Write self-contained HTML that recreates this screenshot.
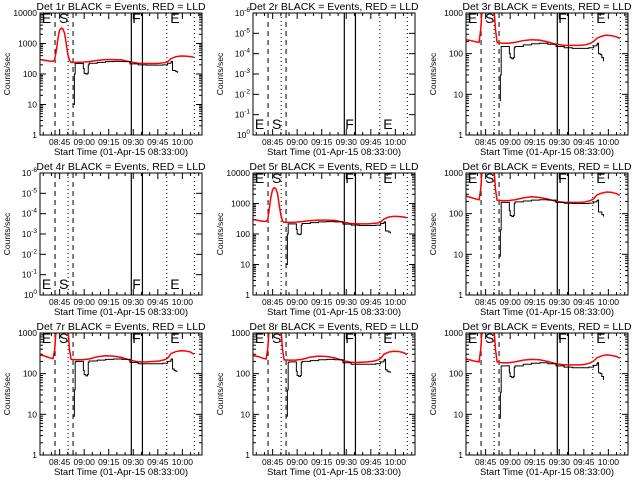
<!DOCTYPE html>
<html><head><meta charset="utf-8"><style>
html,body{margin:0;padding:0;background:#fff}
svg{display:block}
text{font-family:"Liberation Sans",sans-serif;fill:#000}
</style></head><body>
<svg id="chart" width="640" height="480" viewBox="0 0 640 480" xmlns="http://www.w3.org/2000/svg"></svg>
<script>
const T_RED=[0,3,6,8,9,10,11,12,13,14,15,16,17,18,19,22,26,30,35,40,45,50,55,60,65,70,73,76,78,80,83,86,89,92,94];
const T_BLACK=[20.5,21,21.5,22,26,26.5,27,28,29,29.5,30,35,40,45,50,55,60,65,70,75,78,80,80.4,81,82,83,84];
const RED_1=[300,280,265,260,300,600,1500,2800,3200,3000,2200,1000,450,280,240,240,245,255,280,295,295,290,250,225,220,220,225,235,250,320,370,390,385,370,355];
const BLK_1=[10,100,220,220,220,150,105,100,105,200,225,240,255,260,255,215,200,195,195,200,225,250,260,130,130,120,110];
const RED_3=[220,210,195,190,400,1500,3000,4000,4000,4000,3000,2000,1500,400,190,180,180,190,210,220,215,195,170,160,160,160,165,180,200,240,270,285,275,260,235];
const BLK_3=[7,30,150,150,150,100,80,75,80,140,150,165,175,180,170,150,140,135,135,140,155,170,180,100,95,80,65];
const RED_5=[300,280,260,260,300,700,1700,2900,3300,3000,2100,900,420,270,240,240,245,255,275,285,285,280,245,220,215,215,220,230,245,310,360,380,375,360,340];
const BLK_5=[10,100,215,215,215,140,100,95,100,195,220,235,250,255,250,210,195,190,190,195,220,240,250,125,125,115,105];
const RED_6=[270,250,230,220,400,1500,3000,4000,4000,4000,3000,2000,1500,400,215,210,210,220,245,260,250,230,200,190,190,190,195,210,230,290,320,340,335,310,280];
const BLK_6=[9,40,190,190,190,120,90,85,90,180,195,205,215,220,215,190,180,178,178,182,195,210,215,110,110,95,85];
const RED_7=[290,270,245,235,400,1500,3000,4000,4000,4000,3000,2000,1500,400,225,220,220,230,260,275,270,250,215,195,195,200,205,220,240,310,350,365,360,340,300];
const BLK_7=[9,40,195,200,200,120,95,88,95,190,205,215,225,230,225,190,175,175,175,180,200,220,230,130,120,115,115];
const RED_8=[280,265,240,230,400,1500,3000,4000,4000,4000,3000,2000,1500,400,220,215,215,225,255,270,265,245,210,190,190,195,200,215,235,300,340,355,350,330,295];
const BLK_8=[9,40,190,195,195,115,90,85,90,185,200,210,220,225,220,185,170,170,170,175,195,215,225,125,115,110,105];
const RED_9=[230,215,200,195,400,1500,3000,4000,4000,4000,3000,2000,1500,400,195,185,185,195,215,225,220,200,175,165,165,165,170,185,205,245,275,290,280,265,240];
const BLK_9=[8,35,155,155,155,105,85,80,85,145,155,170,180,185,175,155,145,140,140,145,160,175,185,105,100,85,70];
const X_TICK_MIN=[12,27,42,57,72,87];
const X_TICK_LABELS=["08:45","09:00","09:15","09:30","09:45","10:00"];
const MARK_DASHED=[9.2,20.2];
const MARK_DOTTED=[17.2,77.5,94.3];
const MARK_SOLID=[55.8,62.6];
const MARK_LETTERS=["E","S","F","E"];
const MARK_LETTER_MIN=[0.5,11,55.8,79];

const panels=[
 {det:1,ymax:4,red:RED_1,blk:BLK_1},
 {det:2,empty:true},
 {det:3,ymax:3,red:RED_3,blk:BLK_3},
 {det:4,empty:true},
 {det:5,ymax:4,red:RED_5,blk:BLK_5},
 {det:6,ymax:3,red:RED_6,blk:BLK_6},
 {det:7,ymax:3,red:RED_7,blk:BLK_7},
 {det:8,ymax:3,red:RED_8,blk:BLK_8},
 {det:9,ymax:3,red:RED_9,blk:BLK_9}
];
const NS="http://www.w3.org/2000/svg";
const svg=document.getElementById('chart');
function mk(tag,attrs,parent){const e=document.createElementNS(NS,tag);for(const k in attrs)e.setAttribute(k,attrs[k]);(parent||svg).appendChild(e);return e;}
const W=162,H=122,TMAX=99;
panels.forEach((p,i)=>{
 const col=i%3,row=Math.floor(i/3);
 const L=col*213+40,T=row*160+13;
 const g=mk('g',{});
 
 
 const xs=t=>L+t*W/TMAX;
 const dec=p.empty?6:p.ymax;
 const ys=v=>T+H-Math.log10(v)/dec*H;
 const cid='clip'+i;
 const cp=mk('clipPath',{id:cid},g);mk('rect',{x:L,y:T,width:W,height:H},cp);
 const tt=mk('text',{x:L+W/2,y:T-3,'text-anchor':'middle','font-size':'10.5'},g);
 tt.textContent='Det '+p.det+'r BLACK = Events, RED = LLD';
 
 
 for(let d=0;d<=dec;d++){
  const yy=T+H-d/dec*H;
  mk('line',{x1:L,x2:L+6,y1:yy,y2:yy,stroke:'#000'},g);
  mk('line',{x1:L+W-6,x2:L+W,y1:yy,y2:yy,stroke:'#000'},g);
  const lb=mk('text',{x:L-3,y:yy+3,'text-anchor':'end','font-size':'8.5'},g);
  if(p.empty){lb.textContent='10';const s=mk('tspan',{dy:'-4','font-size':'6.5'},lb);s.textContent=d==0?'0':'-'+d;}
  else lb.textContent=String(Math.pow(10,d));
  
  
  if(!p.empty&&d<dec){for(let m=2;m<10;m++){const ym=T+H-(d+Math.log10(m))/dec*H;
   mk('line',{x1:L,x2:L+3,y1:ym,y2:ym,stroke:'#000'},g);mk('line',{x1:L+W-3,x2:L+W,y1:ym,y2:ym,stroke:'#000'},g);}}
 }
 const yt=mk('text',{x:0,y:0,transform:`translate(${L-30},${T+H/2}) rotate(-90)`,'text-anchor':'middle','font-size':'8.5'},g);
 yt.textContent='Counts/sec';
 
 
 X_TICK_MIN.forEach((m,k)=>{const xx=xs(m);
  mk('line',{x1:xx,x2:xx,y1:T+H,y2:T+H-6,stroke:'#000'},g);mk('line',{x1:xx,x2:xx,y1:T,y2:T+6,stroke:'#000'},g);
  const lb=mk('text',{x:xx,y:T+H+10,'text-anchor':'middle','font-size':'8.5'},g);lb.textContent=X_TICK_LABELS[k];
  
  });
 for(let m=2;m<TMAX;m+=5){if(X_TICK_MIN.includes(m))continue;const xx=xs(m);
  mk('line',{x1:xx,x2:xx,y1:T+H,y2:T+H-3,stroke:'#000'},g);mk('line',{x1:xx,x2:xx,y1:T,y2:T+3,stroke:'#000'},g);}
 const xt=mk('text',{x:L+W/2,y:T+H+20,'text-anchor':'middle','font-size':'9.5'},g);
 xt.textContent='Start Time (01-Apr-15 08:33:00)';
 
 
 MARK_DASHED.forEach(m=>mk('line',{x1:xs(m),x2:xs(m),y1:T,y2:T+H,stroke:'#000','stroke-dasharray':'5,4'},g));
 MARK_DOTTED.forEach(m=>mk('line',{x1:xs(m),x2:xs(m),y1:T,y2:T+H,stroke:'#000','stroke-dasharray':'1,3'},g));
 MARK_SOLID.forEach(m=>mk('line',{x1:xs(m),x2:xs(m),y1:T,y2:T+H,stroke:'#000','stroke-width':'1.2'},g));
 MARK_LETTERS.forEach((s,k)=>{const lt=mk('text',{x:xs(MARK_LETTER_MIN[k])+1,y:p.empty?T+H-6:T+10,'font-size':'14'},g);lt.textContent=s;
  
  });
 if(!p.empty){
  const line=(ts,vs)=>ts.map((t,k)=>(k?'L':'M')+xs(t)+','+ys(vs[k])).join('');
  const step=(ts,vs)=>{let d='';ts.forEach((t,k)=>{const x=xs(t),y=ys(vs[k]);if(k==0)d+=`M${x},${y}`;else{d+=`H${x}V${y}`;}});return d;};
  const rp=mk('path',{d:line(T_RED,p.red),fill:'none',stroke:'#f00','stroke-width':'1.5','clip-path':`url(#${cid})`},g);
  
  
  const bp=mk('path',{d:step(T_BLACK,p.blk),fill:'none',stroke:'#000','stroke-width':'1','clip-path':`url(#${cid})`},g);
  
  
 }
 const box=mk('rect',{x:L,y:T,width:W,height:H,fill:'none',stroke:'#000','stroke-width':'1'},g);
 
 
});
</script>
</body></html>
